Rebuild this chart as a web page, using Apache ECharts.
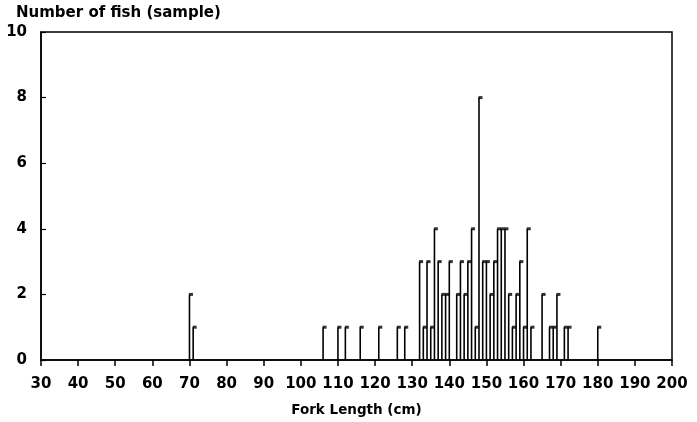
<!DOCTYPE html>
<html>
<head>
<meta charset="utf-8">
<script src="https://cdn.jsdelivr.net/npm/echarts@6/dist/echarts.min.js"></script>
<style>
  html, body { margin: 0; padding: 0; background: #fff; }
  #chart { width: 697px; height: 422px; }
</style>
</head>
<body>
<div id="chart"></div>
<script>
// fork length (cm) and number of fish
let lengths = [70, 71, 106, 110, 112, 116, 121, 126, 128,
	132, 133, 134, 135, 136, 137, 138, 139, 140, 142, 143, 144, 145, 146, 147, 148, 149, 150,
	151, 152, 153, 154, 155, 156, 157, 158, 159, 160, 161, 162, 165, 167, 168, 169, 171, 172, 180]
let counts = [2, 1, 1, 1, 1, 1, 1, 1, 1,
	3, 1, 3, 1, 4, 3, 2, 2, 3, 2, 3, 2, 3, 4, 1, 8, 3, 3,
	2, 3, 4, 4, 4, 2, 1, 2, 3, 1, 4, 1, 2, 1, 1, 2, 1, 1, 1]
let xTicks = [30, 200, 10]
let yTicks = [0, 10, 2]

let points = lengths.map((x, i) => [x, counts[i]])

let labelFont = {
	fontFamily: "DejaVu Sans",
	fontWeight: "bold",
	fontSize: 15,
	color: "#000"
}

let option = {
	animation: false,
	title: {
		text: "Number of fish (sample)",
		left: 11,
		top: 1,
		textStyle: { fontFamily: "DejaVu Sans", fontWeight: "bold", fontSize: 15, color: "#000" }
	},
	grid: {
		left: 41,
		right: 25,
		top: 32,
		bottom: 60,
		show: true,
		borderColor: "#000",
		borderWidth: 1.5
	},
	xAxis: {
		type: "value",
		min: xTicks[0],
		max: xTicks[1],
		interval: xTicks[2],
		name: "Fork Length (cm)",
		nameLocation: "middle",
		nameGap: 43,
		nameTextStyle: { fontFamily: "DejaVu Sans", fontWeight: "bold", fontSize: 13.5, color: "#000" },
		axisLine: { lineStyle: { color: "#000", width: 1.5 } },
		axisTick: { show: true, inside: false, length: 6, lineStyle: { color: "#000", width: 1.5 } },
		axisLabel: Object.assign({ margin: 17 }, labelFont),
		splitLine: { show: false }
	},
	yAxis: {
		type: "value",
		min: yTicks[0],
		max: yTicks[1],
		interval: yTicks[2],
		axisLine: { show: true, lineStyle: { color: "#000", width: 1.5 } },
		axisTick: { show: true, inside: true, length: 5, lineStyle: { color: "#000", width: 1.2 } },
		axisLabel: Object.assign({ margin: 14 }, labelFont),
		splitLine: { show: false }
	},
	series: [
		{
			type: "bar",
			data: points,
			barWidth: 1.6,
			itemStyle: { color: "#000" },
			silent: true
		},
		{
			type: "scatter",
			data: points,
			symbol: "rect",
			symbolSize: [4, 3],
			symbolOffset: [1.5, 0],
			itemStyle: { color: "#000" },
			silent: true
		}
	]
}

var myChart = echarts.init(document.getElementById("chart"))
myChart.setOption(option)
</script>
</body>
</html>
